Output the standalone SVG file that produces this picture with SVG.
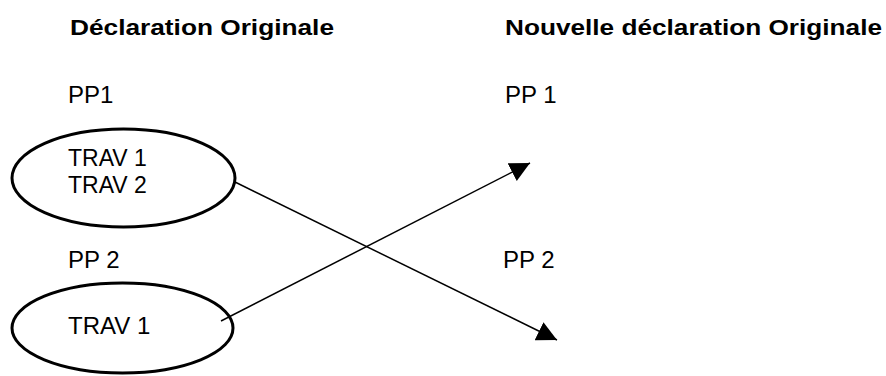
<svg xmlns="http://www.w3.org/2000/svg" width="886" height="376" viewBox="0 0 886 376">
<defs>
<style>
text{font-family:"Liberation Sans",Arial,sans-serif;fill:#000}
.t{font-size:24px}
.s{font-size:23px}
.h{font-size:22px;font-weight:bold}
.e{fill:none;stroke:#000;stroke-width:3}
.c{fill:none;stroke:#000;stroke-width:1.5}
</style>
<marker id="ah" viewBox="0 0 10 10" refX="10" refY="5" markerWidth="20" markerHeight="20" markerUnits="userSpaceOnUse" orient="auto">
<path d="M0,0 L10,5 L0,10 Z" fill="#000"/>
</marker>
</defs>
<rect width="886" height="376" fill="#fff"/>
<g id="headers">
<text class="h" x="70" y="35" textLength="264" lengthAdjust="spacingAndGlyphs">Déclaration Originale</text>
<text class="h" x="505" y="35" textLength="377" lengthAdjust="spacingAndGlyphs">Nouvelle déclaration Originale</text>
</g>
<g id="left-labels">
<text class="t" x="68" y="103">PP1</text>
<text class="t" x="68" y="268">PP 2</text>
</g>
<g id="right-labels">
<text class="t" x="505" y="103">PP 1</text>
<text class="t" x="503" y="268">PP 2</text>
</g>
<g id="group1">
<ellipse class="e" cx="123.5" cy="178" rx="111.5" ry="49"/>
<text class="s" x="68" y="166">TRAV 1</text>
<text class="s" x="68" y="193">TRAV 2</text>
</g>
<g id="group2">
<ellipse class="e" cx="122.5" cy="328" rx="110.5" ry="45"/>
<text class="t" x="68" y="334">TRAV 1</text>
</g>
<g id="connectors">
<line class="c" x1="235" y1="182" x2="557" y2="340" marker-end="url(#ah)"/>
<line class="c" x1="221" y1="321" x2="530" y2="163" marker-end="url(#ah)"/>
</g>
</svg>
